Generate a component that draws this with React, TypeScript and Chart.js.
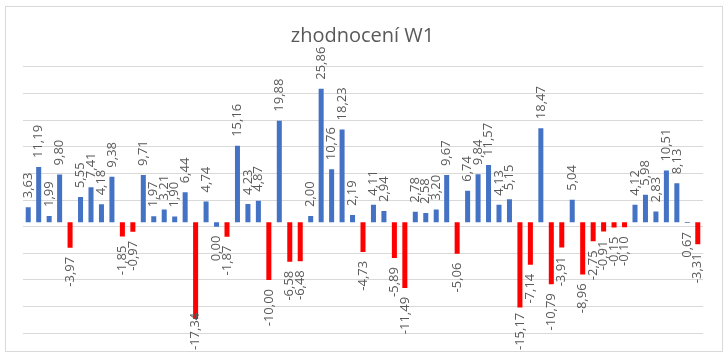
import React, { useEffect, useRef } from "react";
import { Chart, registerables } from "chart.js";

Chart.register(...registerables);

const titleText = "zhodnocení W1";
const values: number[] = [
  3.63, 11.19, 1.99, 9.8, -3.97, 5.55, 7.41, 4.18, 9.38, -1.85, -0.97, 9.71, 1.97, 3.21, 1.9, 6.44, -17.34,
  4.74, 0.0, -1.87, 15.16, 4.23, 4.87, -10.0, 19.88, -6.58, -6.48, 2.0, 25.86, 10.76, 18.23, 2.19,
  -4.73, 4.11, 2.94, -5.89, -11.49, 2.78, 2.58, 3.2, 9.67, -5.06, 6.74, 9.84, 11.57, 4.13, 5.15, -15.17,
  -7.14, 18.47, -10.79, -3.91, 5.04, -8.96, -2.75, -0.91, -0.15, -0.1, 4.12, 5.98, 2.83, 10.51, 8.13, 0.67, -3.31,
];
const categories: string[] = values.map((_, i) => String(i + 1));
const axisCross = 0.83;
const yMin = -20;
const yMax = 30;
const yStep = 5;

const BLUE = "#4472C4";
const RED = "#FF0000";
const GRID = "#D9D9D9";
const TEXT = "#595959";

const decor = {
  id: "decor",
  beforeDraw(chart: any) {
    const ctx = chart.ctx;
    ctx.save();
    ctx.fillStyle = "#ffffff";
    ctx.fillRect(0, 0, chart.width, chart.height);
    ctx.strokeStyle = GRID;
    ctx.lineWidth = 1;
    ctx.strokeRect(5.5, 6.5, 717, 345);
    ctx.fillStyle = TEXT;
    ctx.font = "20px 'Open Sans'";
    ctx.textAlign = "center";
    ctx.textBaseline = "alphabetic";
    ctx.fillText(titleText, 362.5, 42);
    ctx.restore();
  },
  afterDatasetsDraw(chart: any) {
    const ctx = chart.ctx;
    const meta = chart.getDatasetMeta(0);
    ctx.save();
    ctx.fillStyle = TEXT;
    ctx.font = "13px 'Open Sans'";
    ctx.textBaseline = "middle";
    const gap = 9;
    meta.data.forEach((el: any, i: number) => {
      const v = values[i];
      const txt = v.toFixed(2).replace(".", ",");
      const w = ctx.measureText(txt).width;
      const up = v >= axisCross;
      ctx.save();
      if (up) {
        ctx.translate(el.x, el.y - gap);
        ctx.rotate(-Math.PI / 2);
        ctx.textAlign = "left";
      } else {
        let anchor = el.y + gap;
        if (anchor + w > 350) anchor = 350 - w;
        ctx.translate(el.x, anchor);
        ctx.rotate(-Math.PI / 2);
        ctx.textAlign = "right";
      }
      ctx.fillText(txt, 0, 0);
      ctx.restore();
    });
    ctx.restore();
  },
};

export default function App() {
  const ref = useRef<HTMLCanvasElement | null>(null);
  useEffect(() => {
    if (!ref.current) return;
    const chart = new Chart(ref.current, {
      type: "bar",
      data: {
        labels: categories,
        datasets: [
          {
            data: values,
            base: axisCross,
            backgroundColor: values.map((v) => (v >= 0 ? BLUE : RED)),
            borderWidth: 0,
            categoryPercentage: 1,
            barPercentage: 0.48,
          } as any,
        ],
      },
      options: {
        animation: false,
        responsive: false,
        maintainAspectRatio: false,
        layout: { padding: { left: 23, right: 25, top: 66.7, bottom: 25.7 } },
        plugins: { legend: { display: false }, title: { display: false }, tooltip: { enabled: false } },
        scales: {
          x: { display: false, grid: { display: false } },
          y: {
            min: yMin,
            max: yMax,
            ticks: { stepSize: yStep, display: false },
            grid: { color: GRID, drawTicks: false },
            border: { display: false },
          },
        },
      },
      plugins: [decor],
    });
    return () => chart.destroy();
  }, []);
  return (
    <div style={{ position: "absolute", left: 0, top: 0, width: 728, height: 359 }}>
      <canvas ref={ref} width={728} height={359} style={{ display: "block" }} />
    </div>
  );
}
